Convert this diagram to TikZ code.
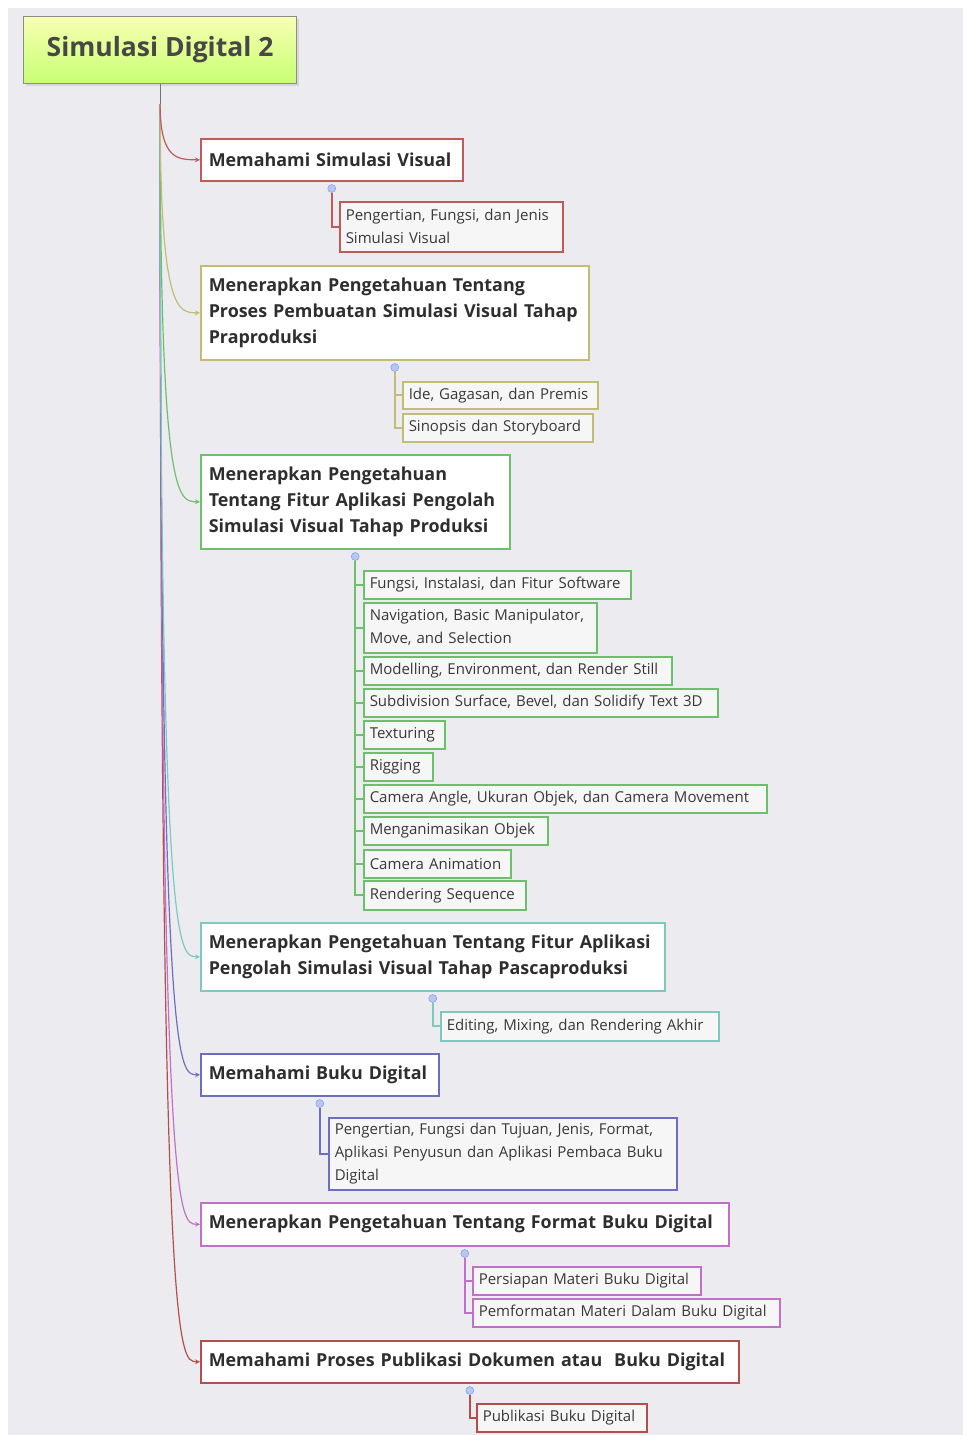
\documentclass[tikz,border=0pt]{standalone}
\usepackage{fontspec}
\setmainfont{Open Sans}
\usepackage{tikz}
\usetikzlibrary{shadows}

\definecolor{bgcol}{HTML}{ECECF0}
\definecolor{subfill}{HTML}{F6F6F6}
\definecolor{redcol}{HTML}{BE5A58}
\definecolor{olivecol}{HTML}{C2BC74}
\definecolor{greencol}{HTML}{6CC06C}
\definecolor{tealcol}{HTML}{7EC8C0}
\definecolor{bluecol}{HTML}{6E6EC0}
\definecolor{pinkcol}{HTML}{C070C8}
\definecolor{darkredcol}{HTML}{B44E4C}
\definecolor{knobcol}{HTML}{B4C8F0}

\tikzset{
  root/.style={draw=black!45, line width=1.2pt, top color=green!10!yellow!30,
    bottom color=green!40!yellow!55, anchor=north west, minimum width=273pt,
    minimum height=67pt, text=black!72, font=\fontsize{26.5}{30}\selectfont\bfseries,
    drop shadow={opacity=0.2, shadow xshift=2pt, shadow yshift=-2pt}},
  topic/.style={draw=#1, line width=1.5pt, fill=white, anchor=north west,
    align=left, inner xsep=8pt, text=black!82,
    font=\fontsize{17.9}{26}\selectfont\bfseries,
    drop shadow={opacity=0.15, shadow xshift=1.5pt, shadow yshift=-1.5pt}},
  subtopic/.style={draw=#1, line width=1.5pt, fill=subfill, anchor=north west,
    align=left, inner xsep=6pt, text=black!78,
    font=\fontsize{15}{23}\selectfont,
    drop shadow={opacity=0.15, shadow xshift=1.5pt, shadow yshift=-1.5pt}},
  branch/.style={draw=#1, line width=1.2pt, ->, >=stealth},
  leaf/.style={draw=#1, line width=2.2pt},
  knob/.style={circle, fill=knobcol, draw=knobcol!70!blue, line width=0.4pt,
    inner sep=0pt, minimum size=8pt}
}

\begin{document}
\begin{tikzpicture}[x=1pt, y=-1pt]
  \useasboundingbox (0,0) rectangle (963,1435);
  \fill[bgcol] (8,8) rectangle (963,1435);

  \node[root] (root) at (23,16) {Simulasi Digital 2};
  \coordinate (trunk) at ([yshift=-20pt]root.south);

  \node[topic=redcol, minimum width=262pt, minimum height=42pt, text width=246pt]
    (visual) at (200,138) {Memahami Simulasi Visual};
  \node[topic=olivecol, minimum width=388pt, minimum height=94pt, text width=372pt]
    (praprod) at (200,265)
    {Menerapkan Pengetahuan Tentang\\Proses Pembuatan Simulasi Visual Tahap\\Praproduksi};
  \node[topic=greencol, minimum width=309pt, minimum height=94pt, text width=293pt]
    (prod) at (200,454)
    {Menerapkan Pengetahuan\\Tentang Fitur Aplikasi Pengolah\\Simulasi Visual Tahap Produksi};
  \node[topic=tealcol, minimum width=464pt, minimum height=68pt, text width=448pt]
    (pascaprod) at (200,922)
    {Menerapkan Pengetahuan Tentang Fitur Aplikasi\\Pengolah Simulasi Visual Tahap Pascaproduksi};
  \node[topic=bluecol, minimum width=238pt, minimum height=42pt, text width=222pt]
    (buku) at (200,1053) {Memahami Buku Digital};
  \node[topic=pinkcol, minimum width=528pt, minimum height=43pt, text width=512pt]
    (format) at (200,1202) {Menerapkan Pengetahuan Tentang Format Buku Digital};
  \node[topic=darkredcol, minimum width=538pt, minimum height=42pt, text width=522pt]
    (publikasi) at (200,1340) {Memahami Proses Publikasi Dokumen atau\ \ Buku Digital};

  \draw[black!55, line width=1.2pt] (root.south) -- (trunk);
  \foreach \n/\c in {publikasi/darkredcol, format/pinkcol, buku/bluecol,
      pascaprod/tealcol, prod/greencol, praprod/olivecol, visual/redcol}
    \draw[branch=\c]
      (trunk) .. controls (trunk |- \n.west) and ([xshift=-22pt]\n.west) .. (\n.west)
    ;

  \node[subtopic=redcol, minimum width=223pt, minimum height=50pt, text width=211pt]
    (visual-1) at (339,201) {Pengertian, Fungsi, dan Jenis\\Simulasi Visual};

  \node[subtopic=olivecol, minimum width=195pt, minimum height=27pt, text width=183pt]
    (praprod-1) at (402,381) {Ide, Gagasan, dan Premis};
  \node[subtopic=olivecol, minimum width=190pt, minimum height=28pt, text width=178pt]
    (praprod-2) at (402,413) {Sinopsis dan Storyboard};

  \foreach \i/\t/\w/\h/\txt in {
      1/570/267/28/{Fungsi, Instalasi, dan Fitur Software},
      2/602/233/50/{Navigation, Basic Manipulator,\\Move, and Selection},
      3/656/308/28/{Modelling, Environment, dan Render Still},
      4/688/354/28/{Subdivision Surface, Bevel, dan Solidify Text 3D},
      5/720/81/28/{Texturing},
      6/752/69/28/{Rigging},
      7/784/403/28/{Camera Angle, Ukuran Objek, dan Camera Movement},
      8/816/184/28/{Menganimasikan Objek},
      9/849/147/28/{Camera Animation},
      10/880/162/29/{Rendering Sequence}}
    \node[subtopic=greencol, minimum width=\w pt, minimum height=\h pt,
      text width=\w pt-12pt] (prod-\i) at (363,\t) {\txt};

  \node[subtopic=tealcol, minimum width=278pt, minimum height=29pt, text width=266pt]
    (pascaprod-1) at (440,1011) {Editing, Mixing, dan Rendering Akhir};

  \node[subtopic=bluecol, minimum width=348pt, minimum height=72pt, text width=336pt]
    (buku-1) at (328,1117)
    {Pengertian, Fungsi dan Tujuan, Jenis, Format,\\Aplikasi Penyusun dan Aplikasi Pembaca Buku\\Digital};

  \node[subtopic=pinkcol, minimum width=228pt, minimum height=28pt, text width=216pt]
    (format-1) at (472,1266) {Persiapan Materi Buku Digital};
  \node[subtopic=pinkcol, minimum width=307pt, minimum height=28pt, text width=295pt]
    (format-2) at (472,1298) {Pemformatan Materi Dalam Buku Digital};

  \node[subtopic=darkredcol, minimum width=170pt, minimum height=28pt, text width=158pt]
    (publikasi-1) at (476,1403) {Publikasi Buku Digital};

  % knobs under each topic
  \foreach \n in {visual, praprod, prod, pascaprod, buku, format, publikasi}
    \node[knob] (\n-k) at ([yshift=-7pt]\n.south) {};

  \draw[leaf=redcol] (visual-k) |- (visual-1.west);
  \draw[leaf=olivecol]
    (praprod-k) |- (praprod-1.west)
    (praprod-k) |- (praprod-2.west)
  ;
  \foreach \i in {1,...,10}
    \draw[leaf=greencol] (prod-k) |- (prod-\i.west);
  \draw[leaf=tealcol] (pascaprod-k) |- (pascaprod-1.west);
  \draw[leaf=bluecol] (buku-k) |- (buku-1.west);
  \draw[leaf=pinkcol]
    (format-k) |- (format-1.west)
    (format-k) |- (format-2.west)
  ;
  \draw[leaf=darkredcol] (publikasi-k) |- (publikasi-1.west);
\end{tikzpicture}
\end{document}
